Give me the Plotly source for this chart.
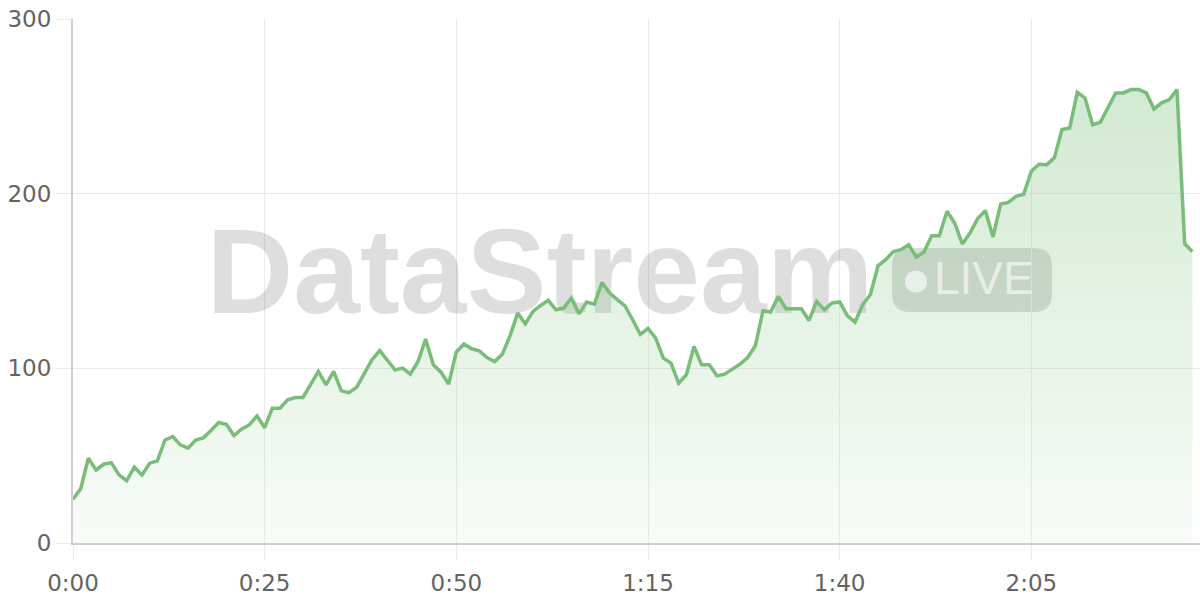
import plotly.graph_objects as go

# ---- data ----
seconds = list(range(147))
values = [
    25, 31, 48.5, 41.8, 45.1, 46, 39, 35.7, 43.4, 39,
    45.7, 47, 59, 60.9, 56.2, 54.3, 59, 60.2, 64.4, 69,
    68, 61.5, 65.3, 67.6, 72.8, 66, 77.2, 77.2, 82, 83.3,
    83.3, 91, 98.2, 90.5, 98.2, 87.1, 86.1, 89.2, 96.8, 104.9,
    110.2, 104.9, 99.1, 100.1, 96.7, 103.9, 116.7, 102, 97.8, 91,
    109.4, 113.9, 111.2, 110, 106.2, 103.9, 108.1, 118.6, 131.6, 125.5,
    132.6, 136, 138.9, 133.5, 134.5, 140.2, 131.2, 137.9, 136.7, 149.2,
    143.1, 139.3, 135.8, 127.8, 119.4, 122.8, 117.3, 105.8, 103, 91.5,
    96.3, 112.5, 102, 102, 95.7, 96.7, 99.5, 102.4, 106.2, 112.9,
    133, 132.2, 141.2, 134.1, 134.1, 134.1, 127.4, 138.3, 133.5, 137.4,
    138, 130.2, 126.5, 136.4, 142.1, 158.7, 162.2, 166.9, 167.9, 170.8,
    163.7, 166.6, 175.9, 175.9, 189.9, 183.2, 171.2, 177.5, 185.7, 190.3,
    175.2, 194.1, 195, 198.5, 199.6, 212.8, 216.8, 216.6, 220.5, 236.7,
    237.6, 258, 254.8, 239.5, 240.9, 249.5, 257.7, 257.7, 259.6, 259.6,
    257.7, 248.5, 252, 253.9, 259.6, 171.3, 166.9,
]
x_tickvals = [0, 25, 50, 75, 100, 125]
x_ticktext = ["0:00", "0:25", "0:50", "1:15", "1:40", "2:05"]
y_tickvals = [0, 100, 200, 300]
watermark_text = "DataStream"
badge_text = "LIVE"

# ---- styling ----
W, H = 1200, 600
ML, MR, MT, MB = 73, 0, 19, 57
PW, PH = W - ML - MR, H - MT - MB
X_RANGE = [0, 147]
Y_RANGE = [0, 300]
GREEN = "rgb(120,189,120)"
AXIS_FONT = dict(family="DejaVu Sans", size=23, color="#636363")
GRID = "#ebebeb"


def px(xp):
    return (xp - ML) / PW


def py(yp):
    return (H - MB - yp) / PH


fig = go.Figure()

# watermark text drawn beneath the data line (position from pixel layout)
fig.add_trace(go.Scatter(
    x=[X_RANGE[0] + px(540) * (X_RANGE[1] - X_RANGE[0])],
    y=[Y_RANGE[0] + py(283) * (Y_RANGE[1] - Y_RANGE[0])],
    mode="text", text=[watermark_text], textposition="middle center",
    textfont=dict(family="Liberation Sans", size=120, weight="bold",
                  color="rgba(0,0,0,0.13)"),
    hoverinfo="skip", showlegend=False, cliponaxis=False,
))

fig.add_trace(go.Scatter(
    x=seconds, y=values, mode="lines",
    line=dict(color=GREEN, width=3.5),
    fill="tozeroy",
    fillgradient=dict(
        type="vertical", start=0, stop=max(values),
        colorscale=[[0, "rgba(120,189,120,0.05)"], [1, "rgba(120,189,120,0.33)"]],
    ),
    hoverinfo="skip", showlegend=False, cliponaxis=True,
))

# watermark badge (rounded rect)
bx0, bx1, by0, by1, r = 892, 1052, 248, 312, 18
rx, ry = r / PW, r / PH
X0, X1, Y0, Y1 = px(bx0), px(bx1), py(by1), py(by0)
path = (f"M {X0+rx},{Y0} L {X1-rx},{Y0} Q {X1},{Y0} {X1},{Y0+ry} "
        f"L {X1},{Y1-ry} Q {X1},{Y1} {X1-rx},{Y1} L {X0+rx},{Y1} "
        f"Q {X0},{Y1} {X0},{Y1-ry} L {X0},{Y0+ry} Q {X0},{Y0} {X0+rx},{Y0} Z")
fig.add_shape(type="path", path=path, xref="paper", yref="paper",
              fillcolor="rgba(0,0,0,0.14)", line=dict(width=0), layer="below")
fig.add_shape(type="circle", xref="paper", yref="paper",
              x0=px(905), x1=px(927), y0=py(292.5), y1=py(270.5),
              fillcolor="rgba(255,255,255,0.6)", line=dict(width=0))
fig.add_annotation(text=badge_text, xref="paper", yref="paper",
                   x=px(984), y=py(278), xanchor="center", yanchor="middle",
                   showarrow=False,
                   font=dict(family="Liberation Sans", size=46,
                             color="rgba(255,255,255,0.6)"))

fig.update_layout(
    width=W, height=H,
    margin=dict(l=ML, r=MR, t=MT, b=MB, pad=0, autoexpand=False),
    paper_bgcolor="white", plot_bgcolor="white",
    showlegend=False,
    xaxis=dict(
        range=X_RANGE, tickvals=x_tickvals, ticktext=x_ticktext,
        showgrid=True, gridcolor=GRID, gridwidth=1,
        showline=True, linecolor="#cfcfcf", linewidth=2,
        ticks="outside", ticklen=15, tickcolor=GRID, tickwidth=1,
        zeroline=False, tickfont=AXIS_FONT, automargin=False,
        ticklabelstandoff=3,
    ),
    yaxis=dict(
        range=Y_RANGE, tickvals=y_tickvals,
        showgrid=True, gridcolor=GRID, gridwidth=1,
        showline=True, linecolor="#cfcfcf", linewidth=2,
        ticks="outside", ticklen=15, tickcolor=GRID, tickwidth=1,
        zeroline=False, tickfont=AXIS_FONT, automargin=False,
    ),
)

fig.write_html("out.html", config={"displayModeBar": False},
               post_script="document.body.style.margin='0';")
